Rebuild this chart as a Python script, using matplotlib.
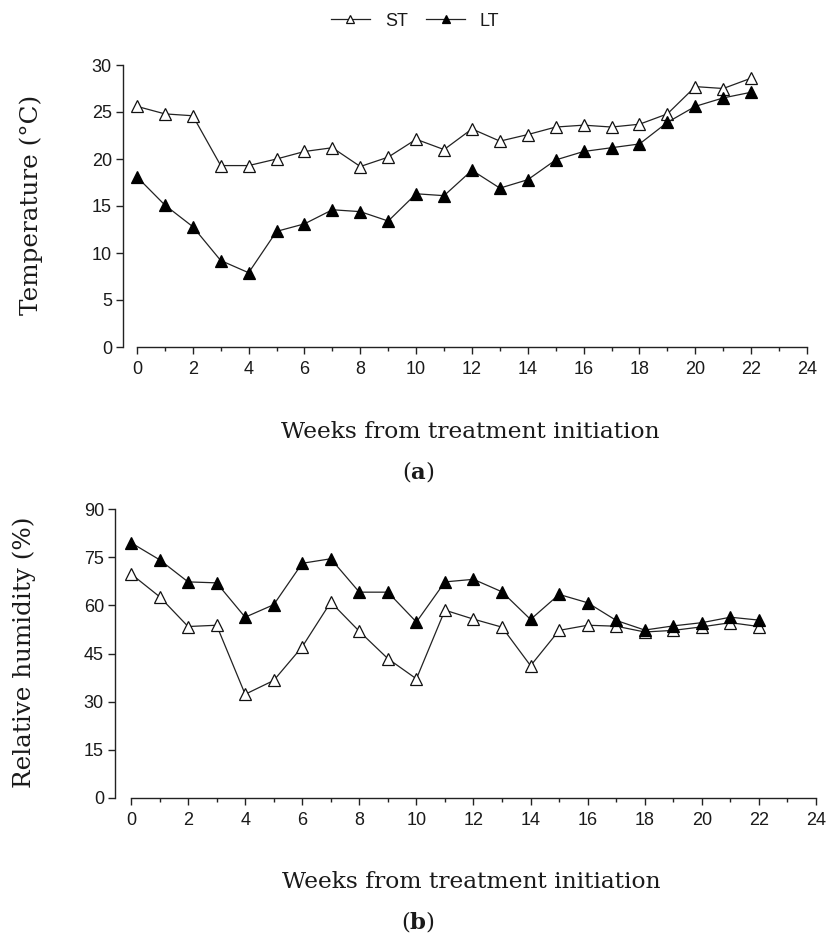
import matplotlib
matplotlib.use("Agg")
import matplotlib.pyplot as plt
from matplotlib.ticker import MultipleLocator

weeks = list(range(23))
temp_st = [25.6, 24.8, 24.6, 19.3, 19.3, 20.0, 20.8, 21.2, 19.2, 20.2, 22.1, 21.0,
           23.2, 21.9, 22.6, 23.4, 23.6, 23.4, 23.7, 24.8, 27.7, 27.5, 28.6]
temp_lt = [18.1, 15.1, 12.8, 9.2, 7.9, 12.3, 13.1, 14.6, 14.4, 13.4, 16.3, 16.1,
           18.8, 16.9, 17.8, 19.9, 20.8, 21.2, 21.6, 23.9, 25.6, 26.5, 27.1]
rh_st = [69.8, 62.7, 53.4, 53.8, 32.3, 36.6, 47.1, 61.0, 51.9, 43.4, 37.1, 58.5,
         55.7, 53.2, 41.2, 52.2, 53.8, 53.5, 51.7, 52.2, 53.3, 54.6, 53.4]
rh_lt = [79.5, 74.2, 67.3, 67.0, 56.3, 60.2, 73.1, 74.5, 64.1, 64.1, 54.8, 67.3,
         68.1, 64.2, 55.6, 63.4, 60.8, 55.3, 52.3, 53.6, 54.6, 56.3, 55.4]
series_labels = ["ST", "LT"]
x_label = "Weeks from treatment initiation"
y_labels = ["Temperature (\u00b0C)", "Relative humidity (%)"]
panel_labels = ["a", "b"]

serif = "DejaVu Serif"
plt.rcParams['mathtext.fontset'] = 'custom'
plt.rcParams['mathtext.rm'] = serif
plt.rcParams['mathtext.bf'] = serif + ':bold'

W, H = 828, 936
fig = plt.figure(figsize=(W / 100, H / 100), dpi=100)

def px_axes(l, r, t, b):
    return fig.add_axes([l / W, 1 - b / H, (r - l) / W, (b - t) / H])

TXT = "#1a1a1a"

def style(ax, xmin, ymax, ystep, ylab, ycenter_px, ylab_x_px):
    ax.set_xlim(xmin, 24)
    ax.set_ylim(0, ymax)
    for s in ["top", "right"]:
        ax.spines[s].set_visible(False)
    ax.spines["bottom"].set_bounds(0, 24)
    for s in ["left", "bottom"]:
        ax.spines[s].set_linewidth(1.0)
        ax.spines[s].set_color("#222222")
    ax.xaxis.set_major_locator(MultipleLocator(2))
    ax.xaxis.set_minor_locator(MultipleLocator(1))
    ax.yaxis.set_major_locator(MultipleLocator(ystep))
    ax.tick_params(axis="both", which="major", direction="out", length=5, width=1.0,
                   color="#222222", labelsize=13, labelcolor=TXT, pad=3)
    ax.tick_params(axis="x", which="minor", direction="out", length=3, width=1.0, color="#222222")
    ax.tick_params(axis="x", which="major", pad=5)
    for lab in ax.get_xticklabels() + ax.get_yticklabels():
        lab.set_family("Liberation Sans")
    fig.text(ylab_x_px / W, 1 - ycenter_px / H, ylab, rotation=90, ha="center", va="center",
             family=serif, fontsize=17.7, color=TXT)

def plot_series(ax, st, lt):
    h1, = ax.plot(weeks, st, color="#222222", lw=0.9, marker="^", markersize=8.5,
                  markerfacecolor="white", markeredgecolor="#111111", markeredgewidth=0.9,
                  label=series_labels[0], clip_on=False)
    h2, = ax.plot(weeks, lt, color="#222222", lw=0.9, marker="^", markersize=8.5,
                  markerfacecolor="black", markeredgecolor="black", markeredgewidth=0.9,
                  label=series_labels[1], clip_on=False)
    return h1, h2

ax1 = px_axes(123, 807, 65, 347)
h1, h2 = plot_series(ax1, temp_st, temp_lt)
style(ax1, -0.5, 30, 5, y_labels[0], 205, 31)

ax2 = px_axes(115, 816, 509, 798)
plot_series(ax2, rh_st, rh_lt)
style(ax2, -0.56, 90, 15, y_labels[1], 652, 24)

fig.text(470 / W, 1 - 432 / H, x_label, ha="center", va="center", family=serif,
         fontsize=16.8, color=TXT)
fig.text(418 / W, 1 - 472 / H, r"($\mathbf{%s}$)" % panel_labels[0], ha="center", va="center",
         family=serif, fontsize=16.5, color=TXT)
fig.text(471 / W, 1 - 882 / H, x_label, ha="center", va="center", family=serif,
         fontsize=16.8, color=TXT)
fig.text(418 / W, 1 - 922 / H, r"($\mathbf{%s}$)" % panel_labels[1], ha="center", va="center",
         family=serif, fontsize=16.5, color=TXT)

leg = fig.legend([h1, h2], series_labels, loc="center", bbox_to_anchor=(415 / W, 1 - 21 / H),
                 ncol=2, frameon=False, handlelength=2.2, columnspacing=1.0, handletextpad=0.8,
                 prop=dict(family="Liberation Sans", size=13), markerscale=0.75)
for t in leg.get_texts():
    t.set_color(TXT)

fig.savefig("out.png", dpi=100, facecolor="white")
